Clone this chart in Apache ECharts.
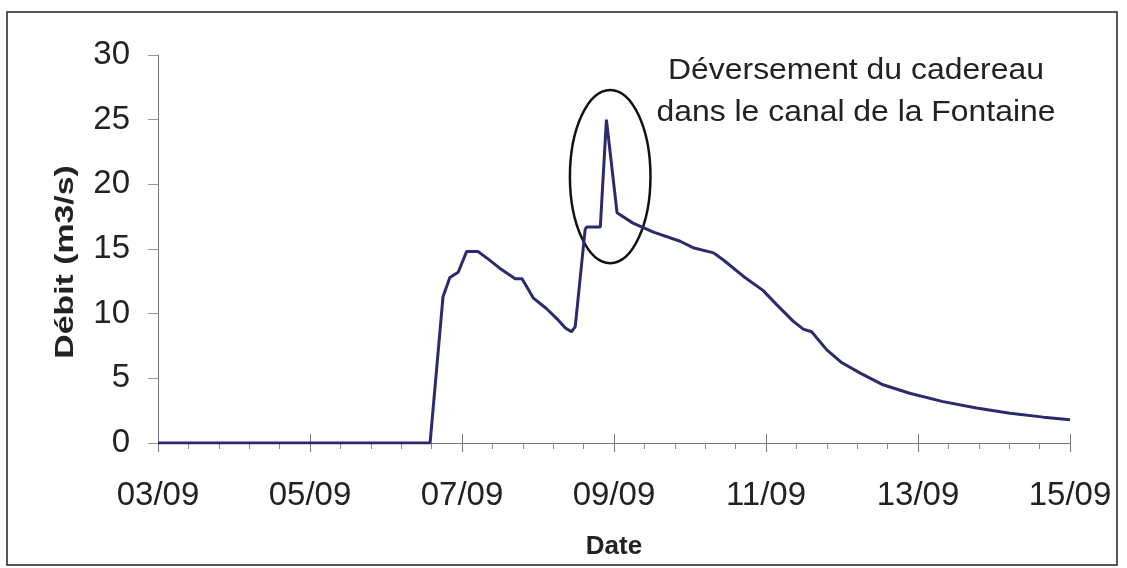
<!DOCTYPE html>
<html>
<head>
<meta charset="utf-8">
<script src="https://cdn.jsdelivr.net/npm/echarts@6/dist/echarts.min.js"></script>
<style>
  html, body { margin: 0; padding: 0; background: #fff; }
  #chart { width: 1127px; height: 568px; }
</style>
</head>
<body>
<div id="chart"></div>
<script>
// jours depuis le 03/09 (axe des x)
const jours = [0, 3.58, 3.75, 3.84, 3.95, 4.06, 4.21, 4.35, 4.50, 4.70, 4.79, 4.85, 4.94,
  5.11, 5.25, 5.36, 5.44, 5.49, 5.62, 5.64, 5.82, 5.90, 6.04, 6.25, 6.52, 6.87, 7.04,
  7.31, 7.44, 7.70, 7.96, 8.14, 8.36, 8.49, 8.60, 8.80, 9.00, 9.24, 9.54, 9.89, 10.33,
  10.77, 11.21, 11.65, 12.0]
// débit en m3/s
const debits = [0, 0, 11.3, 12.8, 13.2, 14.8, 14.8, 14.2, 13.5, 12.7, 12.7, 12.1, 11.2,
  10.4, 9.6, 8.9, 8.6, 9.0, 16.5, 16.7, 16.7, 25.0, 17.8, 17.0, 16.3, 15.6, 15.1,
  14.7, 14.15, 12.9, 11.8, 10.7, 9.4, 8.8, 8.6, 7.2, 6.2, 5.4, 4.5, 3.85, 3.2,
  2.7, 2.3, 2.0, 1.8]
// étiquettes de l'axe des dates (une tous les 2 jours)
const dateLabels = ['03/09', '05/09', '07/09', '09/09', '11/09', '13/09', '15/09']
const yTicks = [0, 5, 10, 15, 20, 25, 30]

const yTitle = 'Débit (m3/s)'
const annotation = 'Déversement du cadereau\ndans le canal de la Fontaine'

const font = 'Liberation Sans'
const lineColor = '#2b2b6b'

const points = jours.map((d, i) => [d, debits[i]])

const chart = echarts.init(document.getElementById('chart'))

const option = {
  animation: false,
  grid: {
    left: 158,
    right: 57,
    top: 55,
    bottom: 125
  },
  xAxis: [
    {
      type: 'value',
      min: 0,
      max: 12,
      interval: 2,
      name: 'Date',
      nameLocation: 'middle',
      nameGap: 91,
      nameTextStyle: { fontFamily: font, fontSize: 26, fontWeight: 'bold', color: '#222' },
      axisLine: { lineStyle: { color: '#777', width: 1 } },
      axisTick: { show: true, inside: false, length: 9, lineStyle: { color: '#777' } },
      minorTick: { show: true, splitNumber: 5, length: 6, lineStyle: { color: '#888' } },
      splitLine: { show: false },
      axisLabel: {
        margin: 36,
        fontFamily: font,
        fontSize: 33,
        color: '#222',
        formatter: v => dateLabels[Math.round(v / 2)]
      }
    },
    {
      // tiques majeures qui traversent l'axe (partie haute)
      type: 'value',
      position: 'bottom',
      min: 0,
      max: 12,
      interval: 2,
      axisLine: { show: false },
      axisTick: { show: true, inside: true, length: 9, lineStyle: { color: '#777' } },
      axisLabel: { show: false },
      splitLine: { show: false }
    }
  ],
  yAxis: {
    type: 'value',
    min: 0,
    max: 30,
    interval: 5,
    axisLine: { show: true, lineStyle: { color: '#777', width: 1 } },
    axisTick: { show: true, length: 10, lineStyle: { color: '#999' } },
    splitLine: { show: false },
    axisLabel: {
      margin: 28,
      fontFamily: font,
      fontSize: 33,
      color: '#222',
      formatter: v => (yTicks.indexOf(v) >= 0 ? String(v) : '')
    }
  },
  series: [
    {
      type: 'line',
      data: points,
      xAxisIndex: 0,
      symbol: 'none',
      lineStyle: { color: lineColor, width: 3 }
    }
  ]
}

chart.setOption(option)

// ellipse autour du pic, placée en coordonnées de données
const centre = chart.convertToPixel({ xAxisIndex: 0, yAxisIndex: 0 }, [5.95, 20.6])
const coin = chart.convertToPixel({ xAxisIndex: 0, yAxisIndex: 0 }, [5.95 + 0.53, 20.6 + 6.7])

chart.setOption({
  graphic: [
    {
      type: 'rect',
      shape: { x: 7, y: 12, width: 1110, height: 553 },
      style: { fill: 'none', stroke: '#222', lineWidth: 1.5 },
      silent: true
    },
    {
      // titre de l'axe des y, un peu étiré comme dans l'original
      type: 'text',
      x: 66,
      y: 262,
      rotation: Math.PI / 2,
      scaleX: 1.3,
      style: {
        text: yTitle,
        fontFamily: font,
        fontSize: 26,
        fontWeight: 'bold',
        fill: '#222',
        align: 'center',
        verticalAlign: 'middle'
      },
      silent: true
    },
    {
      type: 'ellipse',
      shape: {
        cx: centre[0],
        cy: centre[1],
        rx: coin[0] - centre[0],
        ry: centre[1] - coin[1]
      },
      style: { fill: 'none', stroke: '#111', lineWidth: 2.5 },
      silent: true
    },
    {
      type: 'text',
      x: 856,
      y: 92,
      scaleX: 1.1,
      style: {
        text: annotation,
        fontFamily: font,
        fontSize: 29,
        lineHeight: 42,
        fill: '#222',
        align: 'center',
        verticalAlign: 'middle'
      },
      silent: true
    }
  ]
})
</script>
</body>
</html>
